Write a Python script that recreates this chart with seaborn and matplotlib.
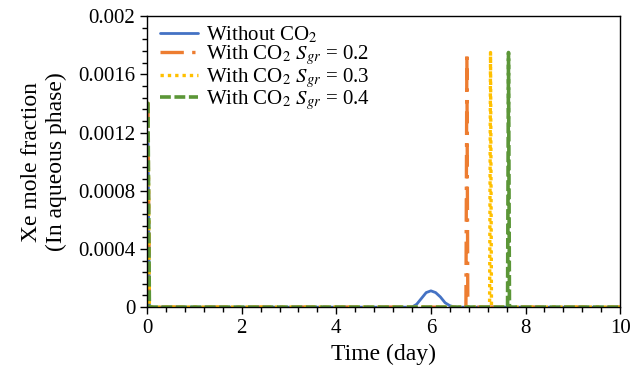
import numpy as np
import pandas as pd
import seaborn as sns
import matplotlib.pyplot as plt
from matplotlib.ticker import MultipleLocator, FuncFormatter

# Dados (tempo em dias, fração molar de Xe)
t_sem = [0, 0.02, 0.05, 5.6, 5.7, 5.8, 5.9, 6.0, 6.1, 6.2, 6.3, 6.4, 6.5, 10]
x_sem = [0.0012, 0.0012, 0, 0, 0.00002, 0.00006, 0.0001, 0.000112, 0.0001, 0.00007, 0.00003, 0.00001, 0, 0]

t_02 = [0, 0.02, 0.05, 6.74, 6.76, 6.78, 10]
x_02 = [0.0014, 0.0014, 0, 0, 0.00175, 0, 0]

t_03 = [0, 0.02, 0.05, 7.24, 7.26, 7.28, 10]
x_03 = [0.0014, 0.0014, 0, 0, 0.00175, 0, 0]

t_04 = [0, 0.02, 0.05, 7.62, 7.64, 7.66, 10]
x_04 = [0.0014, 0.0014, 0, 0, 0.00175, 0, 0]

labels = ['Without CO$_2$',
          'With CO$_2$ $S_{gr}$ = 0.2',
          'With CO$_2$ $S_{gr}$ = 0.3',
          'With CO$_2$ $S_{gr}$ = 0.4']
cores = ['#4472C4', '#ED7D31', '#FFC000', '#5B9637']
estilos = [None, (7, 2.5, 1, 2.5), (1, 1.2), (3, 1)]
larguras = [2.0, 2.4, 2.4, 2.6]

sns.set_style('ticks')
plt.rcParams['font.family'] = ['Liberation Serif', 'DejaVu Serif']
plt.rcParams['mathtext.fontset'] = 'stix'

fig = plt.figure(figsize=(6.42, 3.75), dpi=100)
ax = fig.add_axes([0.229, 0.181, 0.737, 0.776])

series = [(t_sem, x_sem), (t_02, x_02), (t_03, x_03), (t_04, x_04)]
for (t, x), lab, cor, est, lw in zip(series, labels, cores, estilos, larguras):
    df = pd.DataFrame({'t': t, 'x': x})
    sns.lineplot(data=df, x='t', y='x', ax=ax, color=cor, lw=lw,
                 estimator=None, sort=False, label=lab)
    if est is not None:
        ax.lines[-1].set_dashes(est)

ax.set_xlim(0, 10)
ax.set_ylim(0, 0.002)
ax.xaxis.set_major_locator(MultipleLocator(2))
ax.xaxis.set_minor_locator(MultipleLocator(0.4))
ax.yaxis.set_major_locator(MultipleLocator(0.0004))
ax.yaxis.set_minor_locator(MultipleLocator(0.00008))
ax.yaxis.set_major_formatter(FuncFormatter(lambda v, p: f'{v:.4f}'.rstrip('0').rstrip('.') if v else '0'))

ax.tick_params(which='major', direction='out', length=5, width=1, labelsize=15,
               color='black', labelcolor='black')
ax.tick_params(which='minor', direction='out', length=3.5, width=1, color='black')
for s in ax.spines.values():
    s.set_color('black')
    s.set_linewidth(1)
    s.set_visible(True)

ax.set_xlabel('Time (day)', fontsize=17, labelpad=4, color='black')
ax.set_ylabel('Xe mole fraction\n(In aqueous phase)', fontsize=17, labelpad=8, color='black')

leg = ax.legend(loc='upper left', frameon=False, fontsize=15, handlelength=1.8,
                labelspacing=-0.08, borderaxespad=0.0, handletextpad=0.4,
                bbox_to_anchor=(0.01, 1.0))
for txt in leg.get_texts():
    txt.set_color('black')

fig.savefig('out.png', dpi=100)
